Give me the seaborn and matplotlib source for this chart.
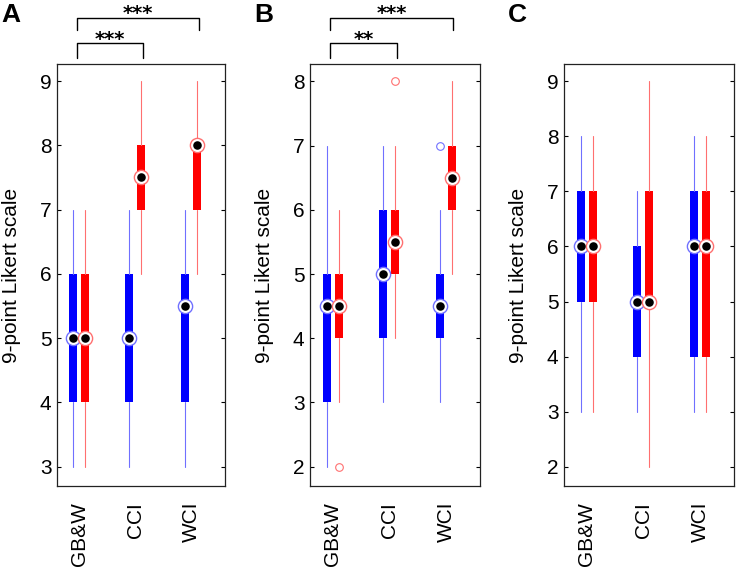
import numpy as np
import pandas as pd
import matplotlib
matplotlib.use("Agg")
import matplotlib.pyplot as plt
import matplotlib.transforms as mtransforms
import seaborn as sns

# ---------------- data ----------------
categories = ["GB&W", "CCI", "WCI"]
panel_letters = ["A", "B", "C"]
ylabel_text = "9-point Likert scale"

# Panel A
a_blue_lo = [3, 3, 3]
a_blue_q1 = [4, 4, 4]
a_blue_med = [5, 5, 5.5]
a_blue_q3 = [6, 6, 6]
a_blue_hi = [7, 7, 7]
a_blue_out = [[], [], []]
a_red_lo = [3, 6, 6]
a_red_q1 = [4, 7, 7]
a_red_med = [5, 7.5, 8]
a_red_q3 = [6, 8, 8]
a_red_hi = [7, 9, 9]
a_red_out = [[], [], []]
a_yticks = [3, 4, 5, 6, 7, 8, 9]

# Panel B
b_blue_lo = [2, 3, 3]
b_blue_q1 = [3, 4, 4]
b_blue_med = [4.5, 5, 4.5]
b_blue_q3 = [5, 6, 5]
b_blue_hi = [7, 7, 6]
b_blue_out = [[], [], [7]]
b_red_lo = [3, 4, 5]
b_red_q1 = [4, 5, 6]
b_red_med = [4.5, 5.5, 6.5]
b_red_q3 = [5, 6, 7]
b_red_hi = [6, 7, 8]
b_red_out = [[2], [8], []]
b_yticks = [2, 3, 4, 5, 6, 7, 8]

# Panel C
c_blue_lo = [3, 3, 3]
c_blue_q1 = [5, 4, 4]
c_blue_med = [6, 5, 6]
c_blue_q3 = [7, 6, 7]
c_blue_hi = [8, 7, 8]
c_blue_out = [[], [], []]
c_red_lo = [3, 2, 3]
c_red_q1 = [5, 5, 4]
c_red_med = [6, 5, 6]
c_red_q3 = [7, 7, 7]
c_red_hi = [8, 9, 8]
c_red_out = [[], [], []]
c_yticks = [2, 3, 4, 5, 6, 7, 8, 9]

# significance comparisons (from, to, label)
a_sig = [("GB&W", "CCI", "***"), ("GB&W", "WCI", "***")]
b_sig = [("GB&W", "CCI", "**"), ("GB&W", "WCI", "***")]
c_sig = []

# ---------------- style ----------------
sns.set_theme(style="white")
plt.rcParams["font.family"] = ["Liberation Sans", "DejaVu Sans"]
for k in ("text.color", "axes.labelcolor", "xtick.color", "ytick.color"):
    plt.rcParams[k] = "black"

W, H = 739, 572
fig = plt.figure(figsize=(W / 100, H / 100), dpi=100)

BLUE, RED = "#0000ff", "#ff0000"
BLUE_L, RED_L = "#7070ff", "#ff7070"

panels = [
    dict(letter="A", blue=(a_blue_lo, a_blue_q1, a_blue_med, a_blue_q3, a_blue_hi, a_blue_out),
         red=(a_red_lo, a_red_q1, a_red_med, a_red_q3, a_red_hi, a_red_out),
         yticks=a_yticks, ylim=(2.70, 9.265), sig=a_sig, px=(57, 225)),
    dict(letter="B", blue=(b_blue_lo, b_blue_q1, b_blue_med, b_blue_q3, b_blue_hi, b_blue_out),
         red=(b_red_lo, b_red_q1, b_red_med, b_red_q3, b_red_hi, b_red_out),
         yticks=b_yticks, ylim=(1.70, 8.27), sig=b_sig, px=(310, 480)),
    dict(letter="C", blue=(c_blue_lo, c_blue_q1, c_blue_med, c_blue_q3, c_blue_hi, c_blue_out),
         red=(c_red_lo, c_red_q1, c_red_med, c_red_q3, c_red_hi, c_red_out),
         yticks=c_yticks, ylim=(1.655, 9.31), sig=c_sig, px=(564, 734)),
]

top_px, bot_px = 64, 486
centers = np.arange(1, len(categories) + 1)
offset = 0.107

for p in panels:
    l, r = p["px"]
    ax = fig.add_axes([l / W, (H - bot_px) / H, (r - l) / W, (bot_px - top_px) / H])
    for key, col, lcol, off in (("blue", BLUE, BLUE_L, -offset), ("red", RED, RED_L, offset)):
        lo, q1, med, q3, hi, out = p[key]
        pos = centers + off
        stats = [dict(med=med[i], q1=q1[i], q3=q3[i], whislo=lo[i], whishi=hi[i],
                      fliers=out[i], label=categories[i]) for i in range(len(categories))]
        ax.bxp(stats, positions=pos, widths=0.14, patch_artist=True, showcaps=False,
               showfliers=True, manage_ticks=False,
               boxprops=dict(facecolor=col, edgecolor=col, linewidth=0),
               whiskerprops=dict(color=lcol, linewidth=0.8),
               medianprops=dict(linewidth=0, color=col),
               flierprops=dict(marker="o", markersize=5.5, markerfacecolor="none",
                               markeredgecolor=lcol, markeredgewidth=0.8))
        mdf = pd.DataFrame({"x": pos, "y": med})
        sns.scatterplot(data=mdf, x="x", y="y", s=105, color="white", edgecolor=lcol,
                        linewidth=1.0, ax=ax, zorder=5)
        sns.scatterplot(data=mdf, x="x", y="y", s=38, color="black", edgecolor="black",
                        linewidth=0, ax=ax, zorder=6)

    ax.set_xlim(0.6, 3.6)
    ax.set_ylim(*p["ylim"])
    ax.set_yticks(p["yticks"])
    ax.set_yticklabels([str(t) for t in p["yticks"]], fontsize=15)
    ax.set_xticks(centers)
    ax.set_xticklabels(categories, rotation=90, fontsize=15, va="top", ha="center")
    ax.tick_params(axis="x", length=0, pad=11.5)
    ax.tick_params(axis="y", direction="in", length=3, width=0.8, left=True, right=True,
                   pad=4, colors="black")
    ax.set_xlabel("")
    ax.set_ylabel(ylabel_text, fontsize=15, color="black")
    ax.yaxis.set_label_coords(-45 / (r - l), 0.5)
    ax.yaxis.label.set_va("center")
    for sp in ax.spines.values():
        sp.set_visible(True)
        sp.set_color("#222222")
        sp.set_linewidth(0.9)
    ax.grid(False)

    # significance brackets
    tr = mtransforms.blended_transform_factory(ax.transData, fig.transFigure)
    levels = [(43, 58, 44.5), (18, 29.5, 19.5)]
    for (c_from, c_to, lab), (yh, yl, yt) in zip(p["sig"], levels):
        x0 = categories.index(c_from) + 1 - 0.04
        x1 = categories.index(c_to) + 1 + 0.13
        ax.plot([x0, x0, x1, x1], [1 - yl / H, 1 - yh / H, 1 - yh / H, 1 - yl / H],
                color="black", lw=1.0, transform=tr, clip_on=False)
        ax.text((x0 + x1) / 2, 1 - yt / H, lab, transform=tr, ha="center",
                va="baseline", fontsize=14, fontweight="bold", color="black",
                family=["DejaVu Sans"])

    # panel letter
    fig.text((l - 56) / W, 1 - 22 / H, p["letter"], fontsize=19, fontweight="bold",
             ha="left", va="baseline")

fig.savefig("out.png", dpi=100)
